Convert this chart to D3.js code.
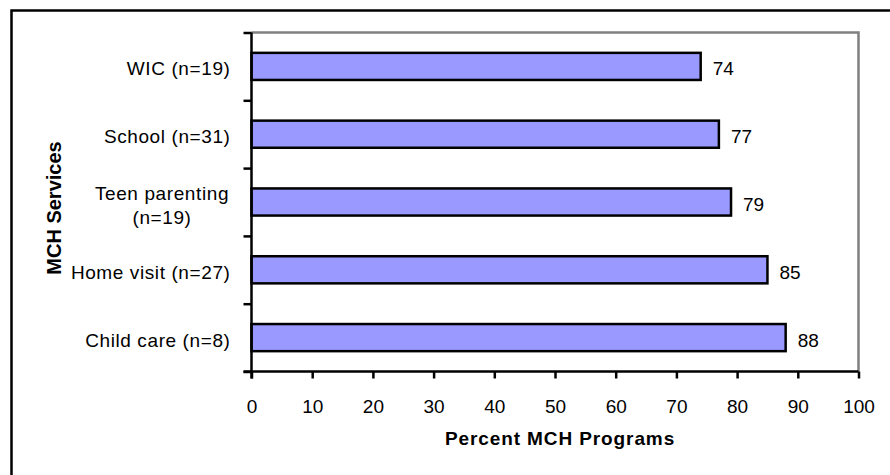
<!DOCTYPE html>
<html>
<head>
<meta charset="utf-8">
<script src="https://cdn.jsdelivr.net/npm/d3@7"></script>
<style>
  html, body { margin: 0; padding: 0; background: #fff; }
  svg { display: block; }
  text { font-family: "Liberation Sans", Arial, sans-serif; fill: #000; }
</style>
</head>
<body>
<svg id="chart" width="890" height="475"></svg>
<script>
// ---- data ----
const categories = ["WIC (n=19)", "School (n=31)", "Teen parenting\n(n=19)", "Home visit (n=27)", "Child care (n=8)"];
const values = [74, 77, 79, 85, 88];
const xTicks = [0, 10, 20, 30, 40, 50, 60, 70, 80, 90, 100];
const xTitle = "Percent MCH Programs";
const yTitle = "MCH Services";

// ---- layout ----
const svg = d3.select("#chart");
const pL = 251.5, pR = 858.5, pT = 32.5, pB = 371.5;

svg.append("rect").attr("x", 0).attr("y", 0).attr("width", 890).attr("height", 475).attr("fill", "#fff");
// outer border (right/bottom out of view)
svg.append("rect").attr("x", 11.5).attr("y", 10.5).attr("width", 950).attr("height", 600)
  .attr("fill", "none").attr("stroke", "#000").attr("stroke-width", 2.5);

const x = d3.scaleLinear().domain([0, 100]).range([pL, pR]);
const y = d3.scaleBand().domain(categories).range([pT, pB]).paddingInner(0.6).paddingOuter(0.3);
const yb = d3.scaleLinear().domain([0, categories.length]).range([pT, pB]);

// plot frame (gray top & right)
svg.append("path")
  .attr("d", `M${pL},${pT}H${pR}V${pB}`)
  .attr("fill", "none").attr("stroke", "#808080").attr("stroke-width", 2.5);

// bars
svg.append("g").selectAll("rect").data(categories).join("rect")
  .attr("x", x(0))
  .attr("y", d => y(d))
  .attr("width", (d, i) => x(values[i]) - x(0))
  .attr("height", y.bandwidth())
  .attr("fill", "#9999FF")
  .attr("stroke", "#000")
  .attr("stroke-width", 2.5);

// value labels
svg.append("g").selectAll("text").data(categories).join("text")
  .attr("x", (d, i) => x(values[i]) + 12)
  .attr("y", d => y(d) + y.bandwidth() / 2 + 9)
  .attr("font-size", 19)
  .text((d, i) => values[i]);

// x axis
const xAxis = svg.append("g").attr("transform", `translate(0,${pB})`)
  .call(d3.axisBottom(x).tickValues(xTicks).tickSize(7).tickPadding(20).tickFormat(d3.format("d")));
xAxis.select(".domain").attr("stroke", "#000").attr("stroke-width", 2.5).attr("d", `M${pL - 8},0H${pR}`);
xAxis.selectAll(".tick line").attr("stroke", "#000").attr("stroke-width", 2.5);
xAxis.selectAll(".tick text").attr("font-size", 19).attr("font-family", "Liberation Sans, Arial, sans-serif")
  .attr("fill", "#000").attr("dy", null).attr("y", 41);

// y axis (ticks at category boundaries)
const yAxis = svg.append("g").attr("transform", `translate(${pL},0)`)
  .call(d3.axisLeft(yb).tickValues(d3.range(categories.length + 1)).tickSize(8).tickFormat(""));
yAxis.select(".domain").attr("stroke", "#000").attr("stroke-width", 2.5).attr("d", `M0,${pT}V${pB + 7}`);
yAxis.selectAll(".tick line").attr("stroke", "#000").attr("stroke-width", 2.5);

// category labels
const labelX = 230.5;
svg.append("g").selectAll("text").data(categories).join("text")
  .attr("font-size", 19)
  .attr("letter-spacing", 0.6)
  .each(function(d) {
    const lines = d.split("\n");
    const cy = y(d) + y.bandwidth() / 2;
    const t = d3.select(this);
    if (lines.length === 1) {
      t.attr("text-anchor", "end").attr("x", labelX).attr("y", cy + 9).text(d);
    } else {
      const w = 137;
      const cx = labelX - w / 2;
      t.attr("text-anchor", "middle");
      lines.forEach((ln, k) => {
        t.append("tspan").attr("x", cx).attr("y", cy - 2.5 + k * 24).text(ln);
      });
    }
  });

// axis titles
svg.append("text")
  .attr("x", 560).attr("y", 445)
  .attr("text-anchor", "middle")
  .attr("font-size", 19).attr("font-weight", "bold").attr("letter-spacing", 0.9)
  .text(xTitle);

svg.append("text")
  .attr("transform", `translate(61,208) rotate(-90)`)
  .attr("text-anchor", "middle")
  .attr("font-size", 20).attr("font-weight", "bold")
  .text(yTitle);
</script>
</body>
</html>
